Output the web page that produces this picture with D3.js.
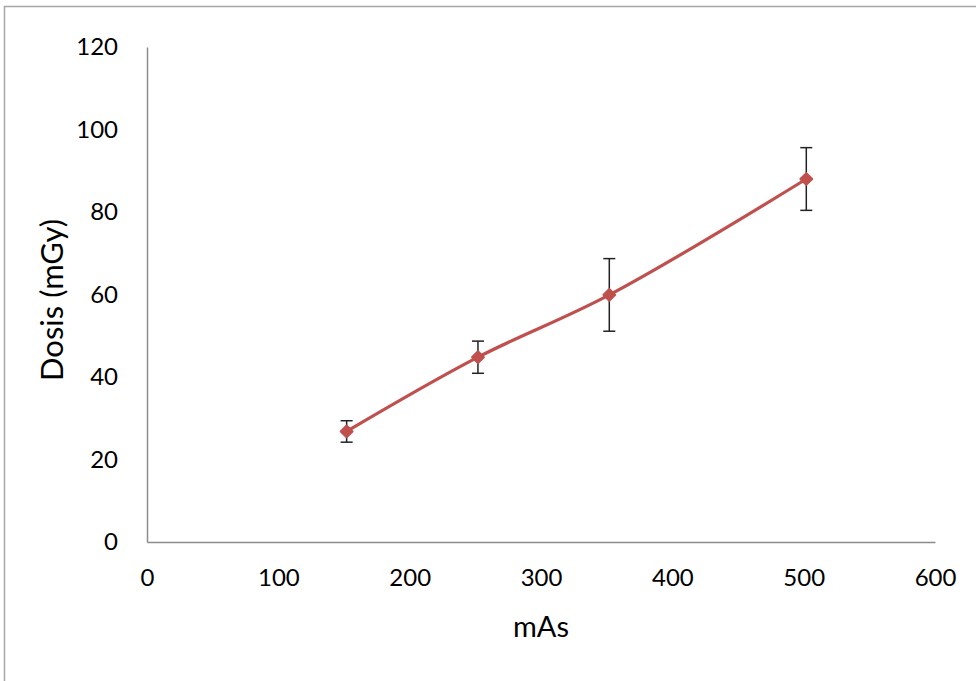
<!DOCTYPE html>
<html>
<head>
<meta charset="utf-8">
<script src="https://cdn.jsdelivr.net/npm/d3@7"></script>
<style>
  html, body { margin: 0; padding: 0; background: #fff; }
  svg { display: block; }
  text { font-family: Lato, "Open Sans", sans-serif; fill: #000; }
</style>
</head>
<body>
<svg id="chart" width="976" height="681"></svg>
<script>
// Dose measured at each tube current-time product
const mAs = [152, 252, 352, 502];
const dose = [26.8, 44.8, 59.9, 88.0];
const doseErr = [2.6, 3.9, 8.8, 7.6];
const xTicks = [0, 100, 200, 300, 400, 500, 600];
const yTicks = [0, 20, 40, 60, 80, 100, 120];

const svg = d3.select("#chart");

// outer chart-area frame
svg.append("rect")
  .attr("x", 4.5).attr("y", 6.5)
  .attr("width", 1000).attr("height", 700)
  .attr("fill", "none").attr("stroke", "#a6a6a6").attr("stroke-width", 1.5);

const x = d3.scaleLinear().domain([0, 600]).range([147, 935]);
const y = d3.scaleLinear().domain([0, 120]).range([542, 47]);

const xAxis = svg.append("g")
  .attr("transform", `translate(0,${y(0)})`)
  .call(d3.axisBottom(x).tickValues(xTicks).tickSize(0).tickPadding(27));
const yAxis = svg.append("g")
  .attr("transform", `translate(${x(0)},0)`)
  .call(d3.axisLeft(y).tickValues(yTicks).tickSize(0).tickPadding(29));

[xAxis, yAxis].forEach(g => {
  g.select(".domain").attr("stroke", "#8c8c8c").attr("stroke-width", 1.5);
  g.selectAll("text").style("font-size", "24px").attr("fill", "#000");
});
xAxis.selectAll("text").attr("dy", "0.71em");

// axis titles
svg.append("text")
  .attr("x", 541).attr("y", 637)
  .attr("text-anchor", "middle")
  .style("font-size", "29px")
  .text("mAs");
svg.append("text")
  .attr("transform", `translate(63,${300}) rotate(-90)`)
  .attr("text-anchor", "middle")
  .style("font-size", "31px")
  .text("Dosis (mGy)");

const data = mAs.map((m, i) => ({ m, d: dose[i], e: doseErr[i] }));

// error bars (drawn beneath the series)
const eb = svg.append("g").attr("stroke", "#222").attr("stroke-width", 1.5);
data.forEach(p => {
  const cx = x(p.m);
  eb.append("line").attr("x1", cx).attr("x2", cx)
    .attr("y1", y(p.d + p.e)).attr("y2", y(p.d - p.e));
  [p.d + p.e, p.d - p.e].forEach(v => {
    eb.append("line").attr("x1", cx - 6).attr("x2", cx + 6)
      .attr("y1", y(v)).attr("y2", y(v));
  });
});

// smoothed series line
const line = d3.line()
  .x(p => x(p.m)).y(p => y(p.d))
  .curve(d3.curveCatmullRom.alpha(0.5));
svg.append("path")
  .datum(data)
  .attr("d", line)
  .attr("fill", "none")
  .attr("stroke", "#c0504d")
  .attr("stroke-width", 3.2)
  .attr("stroke-linejoin", "round");

// diamond markers
svg.append("g").selectAll("path")
  .data(data).join("path")
  .attr("transform", p => `translate(${x(p.m)},${y(p.d)}) rotate(45)`)
  .attr("d", d3.symbol(d3.symbolSquare, 70))
  .attr("fill", "#c0504d")
  .attr("stroke", "#c0504d")
  .attr("stroke-width", 2)
  .attr("stroke-linejoin", "round");
</script>
</body>
</html>
